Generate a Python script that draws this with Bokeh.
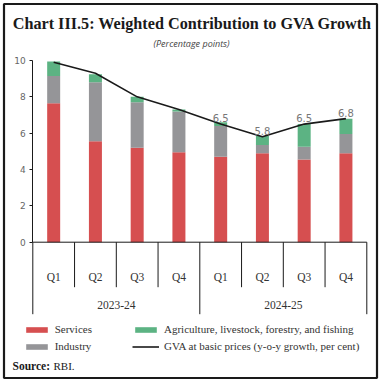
from bokeh.plotting import figure
from bokeh.models import (Range1d, LinearAxis, FixedTicker, ColumnDataSource, Legend,
                          LegendItem, Label)
from bokeh.core.properties import value
from bokeh.embed import file_html
from bokeh.resources import INLINE

# ---------------- data ----------------
quarters = ["Q1", "Q2", "Q3", "Q4", "Q1", "Q2", "Q3", "Q4"]
years = ["2023-24", "2024-25"]
services = [7.65, 5.55, 5.2, 4.95, 4.7, 4.9, 4.55, 4.9]
industry = [1.5, 3.25, 2.5, 2.25, 1.7, 0.45, 0.7, 1.05]
agriculture = [0.8, 0.45, 0.3, 0.1, 0.2, 0.5, 1.25, 0.85]
gva = [9.9, 9.3, 8.0, 7.3, 6.5, 5.8, 6.5, 6.8]
gva_labels = ["", "", "", "", "6.5", "5.8", "6.5", "6.8"]
y_ticks = [0, 2, 4, 6, 8, 10]

# ---------------- layout constants (pixels) ----------------
W, H = 381, 383
X0_PX, PX_PER_X = 32.3, 41.75
Y0_PX, PX_PER_Y = 241.7, 18.17


def fx(px):
    return (px - X0_PX) / PX_PER_X


def fy(py):
    return (Y0_PX - py) / PX_PER_Y


RED, GRAY, GREEN = "#d64f50", "#959598", "#5cb383"
SERIF = "Liberation Serif"

n = len(quarters)
xs = [i + 0.5 for i in range(n)]
ind_top = [s + i for s, i in zip(services, industry)]
agr_top = [t + a for t, a in zip(ind_top, agriculture)]

src = ColumnDataSource(dict(x=xs, q=quarters, s=services, it=ind_top, at=agr_top,
                            g=gva, gl=gva_labels))

p = figure(width=W, height=H, output_backend="svg", toolbar_location=None,
           x_range=Range1d(fx(0), fx(W)), y_range=Range1d(fy(H), fy(0)),
           x_axis_type=None, y_axis_type=None, title=None,
           min_border=0, min_border_left=0, min_border_right=0,
           min_border_top=0, min_border_bottom=0)
p.grid.visible = False
p.outline_line_color = None
p.background_fill_color = "white"
p.border_fill_color = "white"

# outer frame of the chart
p.rect(x=[fx(190)], y=[fy(190.5)], width=[373 / PX_PER_X], height=[374 / PX_PER_Y],
       fill_color=None, line_color="#1a1a1a", line_width=2.2)

bw = 13 / PX_PER_X
r_s = p.vbar(x="x", top="s", bottom=0, width=bw, source=src, fill_color=RED, line_color=None)
r_i = p.vbar(x="x", top="it", bottom="s", width=bw, source=src, fill_color=GRAY, line_color=None)
r_a = p.vbar(x="x", top="at", bottom="it", width=bw, source=src, fill_color=GREEN, line_color=None)
r_l = p.line(x="x", y="g", source=src, line_color="#1a1a1a", line_width=1.6)
p.text(x="x", y="g", text="gl", source=src, text_align="center", text_baseline="bottom",
       y_offset=-2, text_font=value("DejaVu Sans"), text_font_size="10px", text_color="#777777")

# y axis placed at x = 0
yax = LinearAxis(fixed_location=0, bounds=(0, 10), ticker=FixedTicker(ticks=y_ticks))
yax.major_tick_out = 3
yax.major_tick_in = 0
yax.minor_tick_line_color = None
yax.axis_line_color = "#1a1a1a"
yax.major_tick_line_color = "#1a1a1a"
yax.major_label_text_font = "DejaVu Sans"
yax.major_label_text_font_size = "9px"
yax.major_label_text_color = "#666666"
yax.major_label_standoff = 4
p.add_layout(yax, "left")

# category axis: baseline and separators
p.segment(x0=[0], y0=[0], x1=[n], y1=[0], line_color="#1a1a1a", line_width=1)
q_sep = [i for i in range(1, n) if i % 4 != 0]
y_sep = [0, 4, 8]
p.segment(x0=q_sep, y0=[0] * len(q_sep), x1=q_sep, y1=[fy(Y0_PX + 45)] * len(q_sep),
          line_color="#1a1a1a", line_width=1)
p.segment(x0=y_sep, y0=[0] * 3, x1=y_sep, y1=[fy(Y0_PX + 72)] * 3,
          line_color="#1a1a1a", line_width=1)
p.text(x="x", y=fy(Y0_PX + 35), text="q", source=src, text_align="center",
       text_baseline="middle", text_font=value(SERIF), text_font_size="11.5px", text_color="#333333")
p.text(x=[2, 6], y=[fy(Y0_PX + 63)] * 2, text=years, text_align="center",
       text_baseline="middle", text_font=value(SERIF), text_font_size="11.5px", text_color="#333333")

# titles
p.add_layout(Label(x=fx(192), y=fy(23), text="Chart III.5: Weighted Contribution to GVA Growth",
                   text_align="center", text_baseline="middle", text_font=SERIF,
                   text_font_style="bold", text_font_size="16.2px", text_color="#1a1a1a"))
p.add_layout(Label(x=fx(191), y=fy(43), text="(Percentage points)",
                   text_align="center", text_baseline="middle", text_font="Open Sans",
                   text_font_style="italic", text_font_size="9px", text_color="#444444"))
p.add_layout(Label(x=fx(12), y=fy(365), text="Source:", text_align="left",
                   text_baseline="middle", text_font=SERIF, text_font_style="bold",
                   text_font_size="11.5px", text_color="#1a1a1a"))
p.add_layout(Label(x=fx(53), y=fy(365), text="RBI.", text_align="left",
                   text_baseline="middle", text_font=SERIF,
                   text_font_size="11px", text_color="#1a1a1a"))


# legends
def make_legend(items, x, y):
    lg = Legend(items=items, location=(x, y), orientation="vertical",
                glyph_width=27, glyph_height=7, label_height=14, spacing=3,
                padding=0, margin=0, label_standoff=5,
                label_text_font=SERIF, label_text_font_size="11px",
                label_text_color="#333333", border_line_color=None,
                background_fill_alpha=0)
    p.add_layout(lg)
    return lg


make_legend([LegendItem(label="Services", renderers=[r_s]),
             LegendItem(label="Industry", renderers=[r_i])], 22.7, 30)
make_legend([LegendItem(label="Agriculture, livestock, forestry, and fishing", renderers=[r_a]),
             LegendItem(label="GVA at basic prices (y-o-y growth, per cent)", renderers=[r_l])],
            132, 30)

open("out.html", "w").write(file_html(p, INLINE))
